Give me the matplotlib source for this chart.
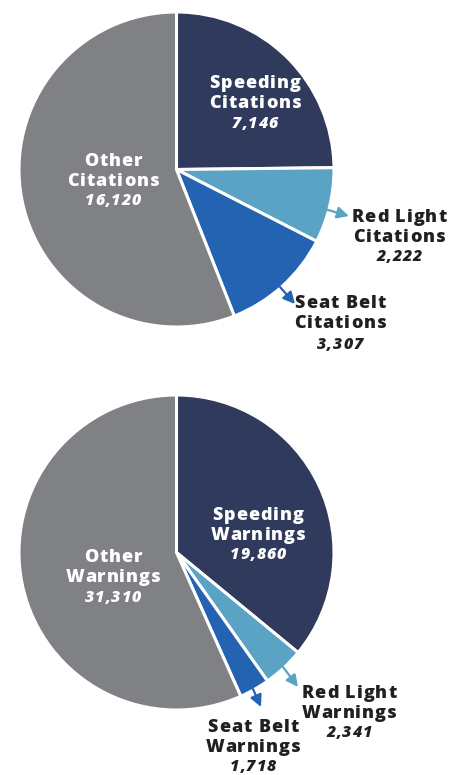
import matplotlib
matplotlib.use("Agg")
import matplotlib.pyplot as plt
from matplotlib.font_manager import FontProperties

W, H = 454, 775

categories = ["Speeding", "Red Light", "Seat Belt", "Other"]
citations = [7146, 2222, 3307, 16120]
warnings = [19860, 2341, 1718, 31310]
citation_labels = ["7,146", "2,222", "3,307", "16,120"]
warning_labels = ["19,860", "2,341", "1,718", "31,310"]

colors = ["#2f3a5c", "#5aa3c5", "#2462b2", "#808185"]
dark = "#231f20"
FONT = "Open Sans"

fig = plt.figure(figsize=(W / 100, H / 100), dpi=100)
ax = fig.add_axes([0, 0, 1, 1])
renderer = fig.canvas.get_renderer()

def Y(y):
    return H - y

def draw_pie(values, cy):
    ax.pie(values, colors=colors, startangle=90, counterclock=False,
           center=(176.5, Y(cy)), radius=157.5, frame=True,
           wedgeprops=dict(edgecolor="white", linewidth=2.2))

draw_pie(citations, 169.5)
draw_pie(warnings, 552.5)

def width(s, fp):
    if not s:
        return 0.0
    w, h, d = renderer.get_text_width_height_descent(s + "|", fp, ismath=False)
    wbar, _, _ = renderer.get_text_width_height_descent("|", fp, ismath=False)
    return w - wbar

def tracked(x, y, s, color, fs, track, style="normal"):
    fp = FontProperties(family=FONT, weight="heavy", style=style, size=fs)
    total = width(s, fp) + track * (len(s) - 1)
    x0 = x - total / 2
    for i, ch in enumerate(s):
        xi = x0 + width(s[:i], fp) + i * track
        ax.text(xi, Y(y), ch, ha="left", va="center", color=color,
                fontproperties=fp)

def label(x, y, l1, l2, num, color, fs=13, gap=20):
    tracked(x, y, l1, color, fs, 1.0)
    tracked(x, y + gap, l2, color, fs, 1.0)
    tracked(x, y + 2 * gap, num, color, fs - 1.5, 1.0, style="italic")

def arrow(x0, y0, x1, y1, color):
    ax.annotate("", xy=(x1, Y(y1)), xytext=(x0, Y(y0)),
                arrowprops=dict(arrowstyle="-|>,head_length=0.7,head_width=0.35",
                                color=color, lw=1.6, shrinkA=0, shrinkB=0))

# Citations
label(255, 84, categories[0], "Citations", citation_labels[0], "white")
label(113, 161, categories[3], "Citations", citation_labels[3], "white")
label(399, 217, "Red Light", "Citations", citation_labels[1], dark)
label(340, 303, "Seat Belt", "Citations", citation_labels[2], dark, gap=21)
arrow(321, 208, 349, 216, colors[1])
arrow(280, 287, 295, 304, colors[2])

# Warnings
label(258, 515, categories[0], "Warnings", warning_labels[0], "white")
label(113, 558, categories[3], "Warnings", warning_labels[3], "white")
label(349, 693, "Red Light", "Warnings", warning_labels[1], dark)
label(253, 728, "Seat Belt", "Warnings", warning_labels[2], dark, gap=19.5)
arrow(283, 667, 298, 687, colors[1])
arrow(253, 689, 261, 707, colors[2])

ax.set_xlim(0, W)
ax.set_ylim(0, H)
ax.set_aspect("equal")
ax.axis("off")

fig.savefig("out.png", dpi=100, facecolor="white")
